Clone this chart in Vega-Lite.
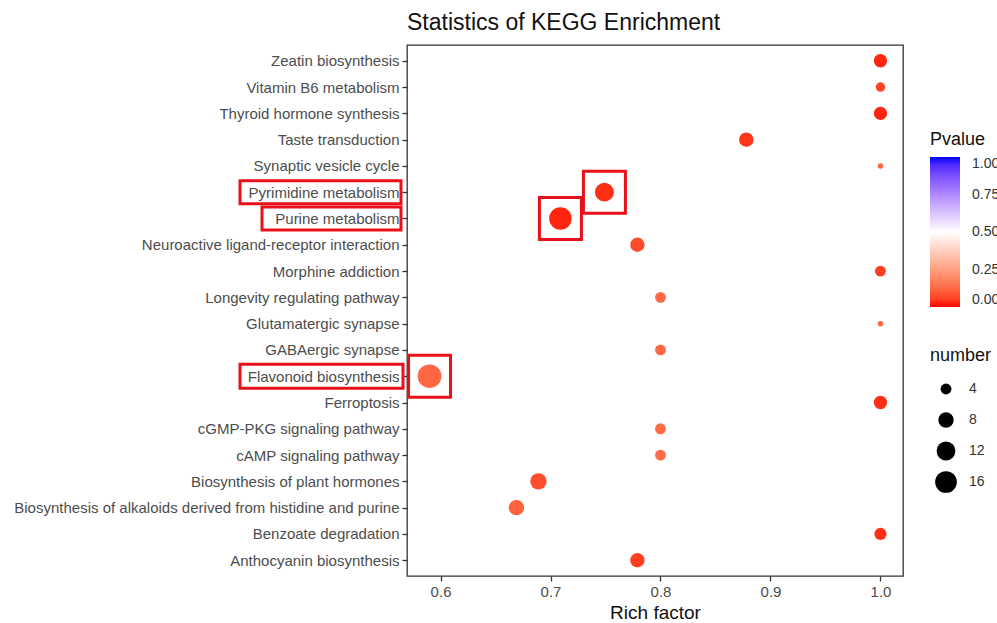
{
  "$schema": "https://vega.github.io/schema/vega-lite/v6.json",
  "width": 496,
  "height": 531,
  "padding": {"left": 13, "top": 12, "right": 0, "bottom": 0},
  "background": "white",
  "title": {"text": "Statistics of KEGG Enrichment", "anchor": "start", "frame": "group", "fontSize": 23, "font": "Liberation Sans", "fontWeight": "normal", "color": "#111", "offset": 10},
  "data": {"values": [
    {"term": "Zeatin biosynthesis", "rich": 1.0, "pvalue": 0.02, "number": 6},
    {"term": "Vitamin B6 metabolism", "rich": 1.0, "pvalue": 0.06, "number": 3},
    {"term": "Thyroid hormone synthesis", "rich": 1.0, "pvalue": 0.02, "number": 6},
    {"term": "Taste transduction", "rich": 0.878, "pvalue": 0.04, "number": 7},
    {"term": "Synaptic vesicle cycle", "rich": 1.0, "pvalue": 0.12, "number": 1},
    {"term": "Pyrimidine metabolism", "rich": 0.749, "pvalue": 0.03, "number": 12},
    {"term": "Purine metabolism", "rich": 0.709, "pvalue": 0.02, "number": 17},
    {"term": "Neuroactive ligand-receptor interaction", "rich": 0.779, "pvalue": 0.07, "number": 7},
    {"term": "Morphine addiction", "rich": 1.0, "pvalue": 0.05, "number": 4},
    {"term": "Longevity regulating pathway", "rich": 0.8, "pvalue": 0.13, "number": 4},
    {"term": "Glutamatergic synapse", "rich": 1.0, "pvalue": 0.12, "number": 1},
    {"term": "GABAergic synapse", "rich": 0.8, "pvalue": 0.13, "number": 4},
    {"term": "Flavonoid biosynthesis", "rich": 0.59, "pvalue": 0.12, "number": 19},
    {"term": "Ferroptosis", "rich": 1.0, "pvalue": 0.03, "number": 6},
    {"term": "cGMP-PKG signaling pathway", "rich": 0.8, "pvalue": 0.13, "number": 4},
    {"term": "cAMP signaling pathway", "rich": 0.8, "pvalue": 0.13, "number": 4},
    {"term": "Biosynthesis of plant hormones", "rich": 0.689, "pvalue": 0.07, "number": 9},
    {"term": "Biosynthesis of alkaloids derived from histidine and purine", "rich": 0.669, "pvalue": 0.11, "number": 8},
    {"term": "Benzoate degradation", "rich": 1.0, "pvalue": 0.03, "number": 5},
    {"term": "Anthocyanin biosynthesis", "rich": 0.779, "pvalue": 0.05, "number": 7}
  ]},
  "encoding": {
    "y": {"field": "term", "type": "nominal", "sort": null,
      "scale": {"type": "point", "padding": 0.6, "domain": ["Zeatin biosynthesis","Vitamin B6 metabolism","Thyroid hormone synthesis","Taste transduction","Synaptic vesicle cycle","Pyrimidine metabolism","Purine metabolism","Neuroactive ligand-receptor interaction","Morphine addiction","Longevity regulating pathway","Glutamatergic synapse","GABAergic synapse","Flavonoid biosynthesis","Ferroptosis","cGMP-PKG signaling pathway","cAMP signaling pathway","Biosynthesis of plant hormones","Biosynthesis of alkaloids derived from histidine and purine","Benzoate degradation","Anthocyanin biosynthesis"]},
      "axis": {"title": null, "domain": false, "labelFontSize": 15, "labelFont": "Liberation Sans", "labelColor": "#4d4d4d", "labelLimit": 0, "tickColor": "#333", "tickSize": 5, "tickWidth": 1.3, "labelPadding": 3, "grid": false}}
  },
  "layer": [
    {
      "mark": {"type": "point", "shape": "circle", "filled": true, "opacity": 1, "strokeWidth": 0},
      "encoding": {
        "x": {"field": "rich", "type": "quantitative", "title": "Rich factor",
          "scale": {"domain": [0.5695, 1.0205], "nice": false, "zero": false},
          "axis": {"values": [0.6, 0.7, 0.8, 0.9, 1.0], "format": ".1f", "grid": false, "domain": false, "labelFontSize": 15, "labelFont": "Liberation Sans", "labelColor": "#4d4d4d", "tickColor": "#333", "tickSize": 5, "tickWidth": 1.3, "labelPadding": 3, "titleFontSize": 19, "titleFont": "Liberation Sans", "titleFontWeight": "normal", "titleColor": "#111", "titlePadding": 4}},
        "color": {"field": "pvalue", "type": "quantitative", "title": "Pvalue",
          "scale": {"domain": [0, 0.5, 1], "range": ["#ff0000", "#ffffff", "#0000ff"], "interpolate": "lab"},
          "legend": {"orient": "none", "legendX": 523, "legendY": 86, "values": [0, 0.25, 0.5, 0.75, 1], "format": ".2f", "gradientLength": 150, "gradientThickness": 30, "gradientStrokeWidth": 0, "titleFontSize": 18, "titleFont": "Liberation Sans", "titleFontWeight": "normal", "titleColor": "#111", "titlePadding": 8, "labelFontSize": 14, "labelFont": "Liberation Sans", "labelColor": "#333", "labelOffset": 12, "direction": "vertical"}},
        "size": {"field": "number", "type": "quantitative", "title": "number",
          "scale": {"domain": [1, 19], "range": [30, 560], "zero": false},
          "legend": {"orient": "none", "legendX": 523, "legendY": 302, "values": [4, 8, 12, 16], "symbolFillColor": "black", "symbolStrokeWidth": 0, "symbolOpacity": 1, "symbolType": "circle", "symbolOffset": 5, "titleFontSize": 18, "titleFont": "Liberation Sans", "titleFontWeight": "normal", "titleColor": "#111", "titlePadding": 12, "labelFontSize": 14, "labelFont": "Liberation Sans", "labelColor": "#333", "clipHeight": 24, "rowPadding": 7, "labelOffset": 12}}
      }
    },
    {
      "transform": [{"filter": {"field": "term", "oneOf": ["Pyrimidine metabolism", "Purine metabolism", "Flavonoid biosynthesis"]}}],
      "mark": {"type": "point", "shape": "square", "filled": false, "stroke": "#e8101a", "strokeWidth": 3, "size": 1764, "opacity": 1},
      "encoding": {
        "x": {"field": "rich", "type": "quantitative"}
      }
    },
    {
      "transform": [{"filter": {"field": "term", "oneOf": ["Pyrimidine metabolism", "Purine metabolism", "Flavonoid biosynthesis"]}}],
      "mark": {"type": "point", "filled": false, "stroke": "#e8101a", "strokeWidth": 3, "size": 4, "opacity": 1},
      "encoding": {
        "x": {"datum": 0.5695, "type": "quantitative"},
        "shape": {"field": "term", "type": "nominal", "legend": null,
          "scale": {"domain": ["Pyrimidine metabolism", "Purine metabolism", "Flavonoid biosynthesis"],
            "range": ["M-167,-11.5H-6V11.5H-167Z", "M-145,-11.5H-6V11.5H-145Z", "M-167,-12H-4V12H-167Z"]}}
      }
    }
  ],
  "config": {
    "view": {"stroke": "#333", "strokeWidth": 1.3},
    "font": "Liberation Sans"
  }
}
